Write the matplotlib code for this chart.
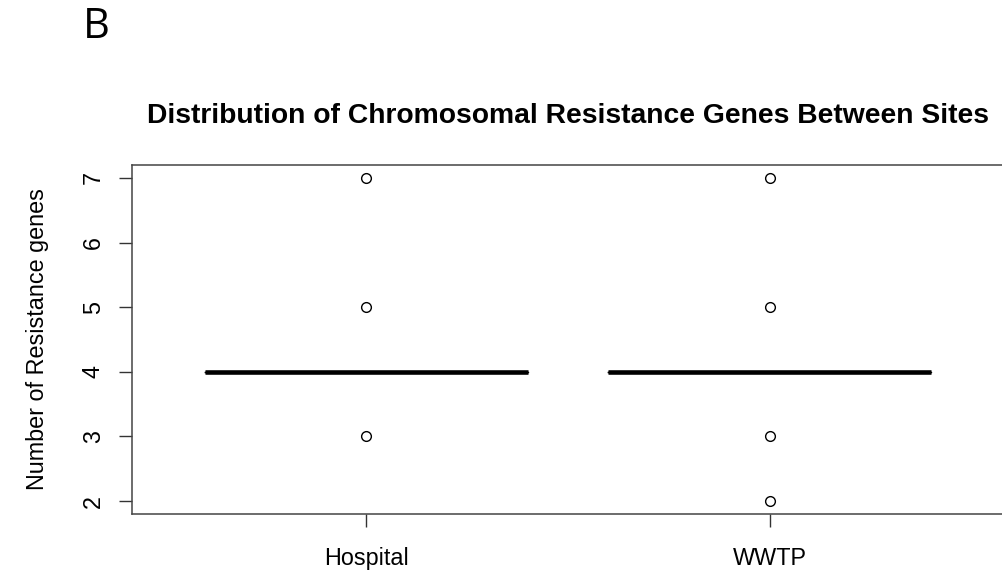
import matplotlib
matplotlib.use('Agg')
import matplotlib.pyplot as plt

plt.rcParams['font.family'] = ['Liberation Sans', 'DejaVu Sans']

# data
sites = ['Hospital', 'WWTP']
hospital = [3, 4, 4, 4, 4, 4, 4, 4, 4, 4, 4, 4, 5, 7]
wwtp = [2, 3, 4, 4, 4, 4, 4, 4, 4, 4, 4, 4, 4, 5, 7]
yticks = [2, 3, 4, 5, 6, 7]

fig = plt.figure(figsize=(10.02, 5.75), dpi=100)
ax = fig.add_axes([132 / 1002, 1 - 514 / 575, 872 / 1002, 349 / 575])

ax.boxplot([hospital, wwtp], positions=[1, 2], widths=0.8,
           boxprops=dict(color='black', linewidth=1),
           whiskerprops=dict(color='black', linewidth=1, linestyle='--'),
           capprops=dict(color='black', linewidth=1),
           medianprops=dict(color='black', linewidth=3.3, solid_capstyle='butt'),
           flierprops=dict(marker='o', markerfacecolor='none', markeredgecolor='black',
                           markersize=7, markeredgewidth=1))

ax.set_xlim(0.42, 2.58)
ax.set_ylim(1.8, 7.2)
ax.set_xticks([1, 2])
ax.set_xticklabels(sites)
ax.set_yticks(yticks)
ax.set_yticklabels([str(v) for v in yticks], rotation=90, va='center')

for s in ax.spines.values():
    s.set_color('#444444')
    s.set_linewidth(1.1)
ax.tick_params(axis='both', labelsize=16.8, length=9.5, width=1, color='#333333', pad=10)
ax.tick_params(axis='x', pad=14)

ax.set_ylabel('Number of Resistance genes', fontsize=16.8, labelpad=24)
ax.set_title('Distribution of Chromosomal Resistance Genes Between Sites',
             fontsize=20.3, fontweight='bold', pad=30)

fig.text(83 / 1002, 1 - 6 / 575, 'B', fontsize=30, family='Open Sans', va='top', ha='left')

fig.savefig('out.png', dpi=100)
